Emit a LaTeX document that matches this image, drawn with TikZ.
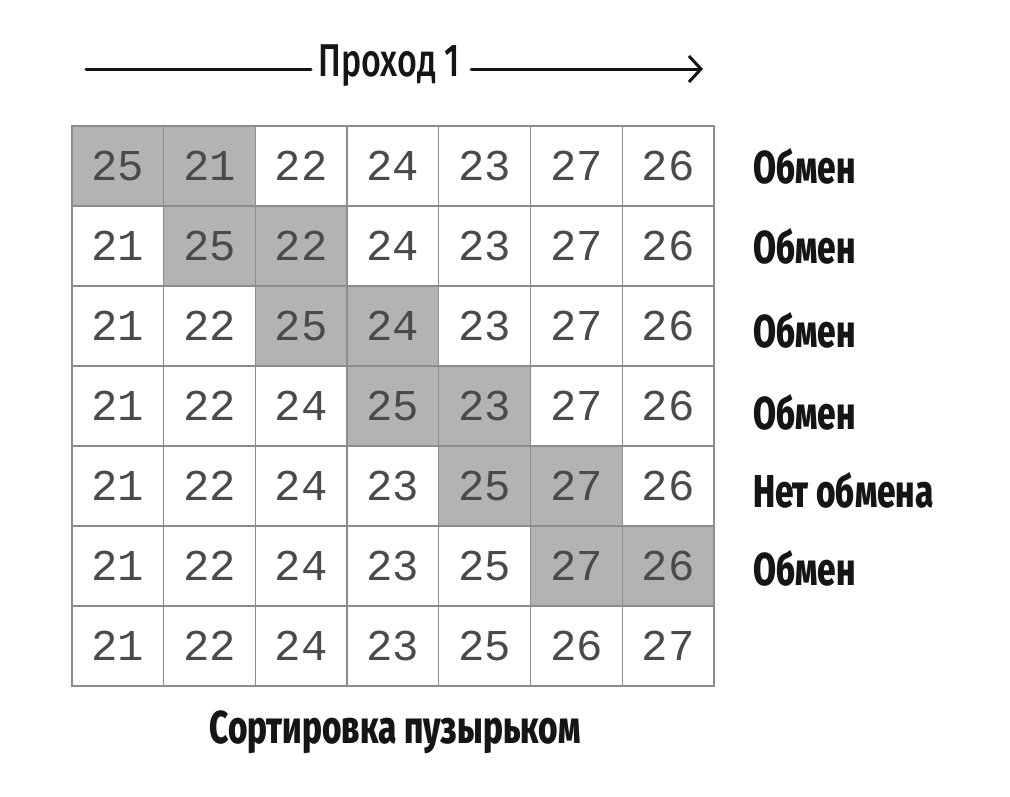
\documentclass[tikz,border=0pt]{standalone}
\usepackage{fontspec}
\setmainfont[FakeStretch=0.72]{Fira Sans}
\newfontfamily\medfont[FakeStretch=0.74]{Fira Sans Medium}
\newfontfamily\heavyfont[FakeStretch=0.725]{Fira Sans ExtraBold}
\newfontfamily\numfont{Liberation Mono}
\usetikzlibrary{arrows.meta}
\definecolor{cellgray}{HTML}{B3B3B3}
\definecolor{gridline}{HTML}{8C8C8C}
\definecolor{numcol}{HTML}{4A4A4A}
\definecolor{ink}{HTML}{151515}
\begin{document}
\begin{tikzpicture}[x=1pt,y=-1pt,
  cell/.style={draw=gridline,line width=1.3pt,minimum width=91.71pt,minimum height=80pt,inner sep=0pt,
    font=\numfont\fontsize{44}{44}\selectfont,text=numcol},
  hot/.style={cell,fill=cellgray},
  lbl/.style={anchor=west,font=\heavyfont\fontsize{46}{46}\selectfont,inner sep=0pt,text=ink},
  ttl/.style={font=\medfont\fontsize{46}{46}\selectfont,inner sep=0pt,text=ink},
  arr/.style={line width=3pt,line cap=round,draw=ink}]
\useasboundingbox (0,0) rectangle (1010,796);
\foreach \r/\vals in {0/{25,21,22,24,23,27,26},1/{21,25,22,24,23,27,26},2/{21,22,25,24,23,27,26},3/{21,22,24,25,23,27,26},4/{21,22,24,23,25,27,26},5/{21,22,24,23,25,27,26},6/{21,22,24,23,25,26,27}}{
  \foreach \v [count=\c from 0] in \vals {
    \pgfmathtruncatemacro{\nx}{(\r<6)&&(\c>=\r)&&(\c<=\r+1)}
    \ifnum\nx=1
      \node[hot] (c\r\c) at ({72+91.71*(\c+0.5)},{126+80*(\r+0.5)}) {\v};
    \else
      \node[cell] (c\r\c) at ({72+91.71*(\c+0.5)},{126+80*(\r+0.5)}) {\v};
    \fi
  }
}
\node[lbl] (l0) at (753,166) {Обмен};
\node[lbl] (l1) at (753,246) {Обмен};
\node[lbl] (l2) at (753,330) {Обмен};
\node[lbl] (l3) at (753,412) {Обмен};
\node[lbl] (l4) at (753,490) {Нет обмена};
\node[lbl] (l5) at (753,568) {Обмен};
\node[ttl] (title) at (389,66) {Проход 1};
\coordinate (a0) at (86,69);
\coordinate (a0e) at (311,69);
\coordinate (a1s) at (471,69);
\coordinate (a1) at (703,69);
\draw[arr] (a0) -- (a0e);
\draw[arr,-{Straight Barb[length=12pt,width=26pt,line width=3pt]}] (a1s) -- (a1);
\node[font=\heavyfont\fontsize{46}{46}\selectfont,inner sep=0pt,text=ink] (cap) at (395,732) {Сортировка пузырьком};
\end{tikzpicture}
\end{document}
